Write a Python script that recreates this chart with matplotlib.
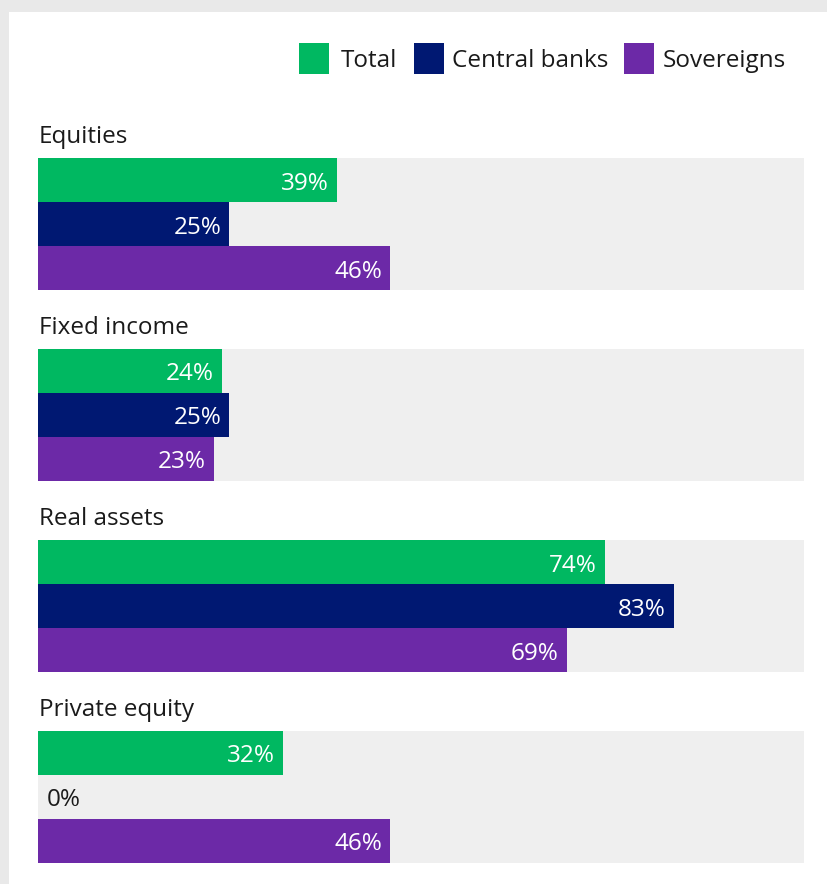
import matplotlib
matplotlib.use("Agg")
import matplotlib.pyplot as plt
from matplotlib.patches import Rectangle

plt.rcParams["font.family"] = ["Open Sans", "DejaVu Sans"]

# data
categories = ["Equities", "Fixed income", "Real assets", "Private equity"]
series = ["Total", "Central banks", "Sovereigns"]
total = [39, 24, 74, 32]
central_banks = [25, 25, 83, 0]
sovereigns = [46, 23, 69, 46]

COLORS = ["#00b861", "#001872", "#6c29a7"]
BG_BAR = "#efefef"
BORDER = "#e9e9e9"
TEXT = "#1a1a1a"

W, H = 828, 884
FS = 17.5

fig = plt.figure(figsize=(W / 100, H / 100), dpi=100)
fig.patch.set_facecolor(BORDER)

# full-figure axes in pixel units for the panel and legend
bg = fig.add_axes([0, 0, 1, 1])
bg.set_xlim(0, W)
bg.set_ylim(H, 0)
bg.axis("off")
bg.add_patch(Rectangle((9, 12), W - 9, H - 12, color="white", lw=0))

legend_pos = [(299, 341), (414, 452), (624, 663)]
for (sx, tx), name, col in zip(legend_pos, series, COLORS):
    bg.add_patch(Rectangle((sx, 43), 30, 31, color=col, lw=0))
    bg.text(tx, 67, name, fontsize=FS, color=TEXT, va="baseline", ha="left")

# bars axes: x = percent, y = pixel rows
ax = fig.add_axes([38 / W, 0, 766 / W, 1])
ax.set_xlim(0, 100)
ax.set_ylim(H, 0)
ax.axis("off")
ax.patch.set_alpha(0)

BAR_H = 44
GROUP_TOP = 158
GROUP_STEP = 191
values = [total, central_banks, sovereigns]

for i, cat in enumerate(categories):
    top = GROUP_TOP + GROUP_STEP * i
    ax.barh(top + 1.5 * BAR_H, 100, height=3 * BAR_H, color=BG_BAR, lw=0)
    ax.text(0.1, top - 15, cat, fontsize=FS, color=TEXT, va="baseline", ha="left")
    for j, (vals, col) in enumerate(zip(values, COLORS)):
        yc = top + BAR_H / 2 + BAR_H * j
        v = vals[i]
        ax.barh(yc, v, height=BAR_H, color=col, lw=0)
        if v > 0:
            ax.annotate(f"{v}%", xy=(v, yc + 9.5), xytext=(-8, 0),
                        textcoords="offset pixels", ha="right", va="baseline",
                        fontsize=FS, color="white")
        else:
            ax.annotate(f"{v}%", xy=(0, yc + 9.5), xytext=(9, 0),
                        textcoords="offset pixels", ha="left", va="baseline",
                        fontsize=FS, color=TEXT)

fig.savefig("out.png", dpi=100, facecolor=fig.get_facecolor())
